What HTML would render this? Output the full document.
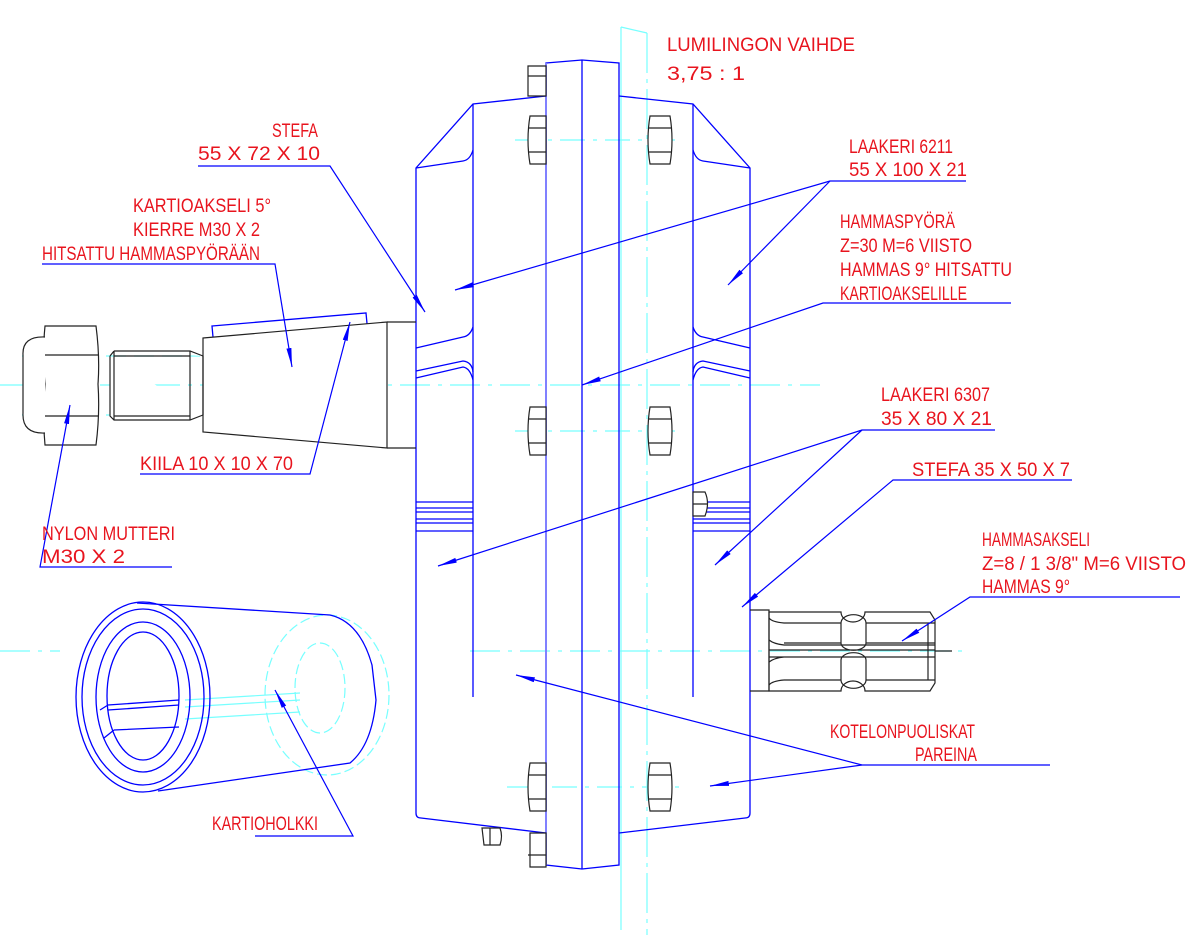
<!DOCTYPE html>
<html><head><meta charset="utf-8"><style>
html,body{margin:0;padding:0;background:#fff;}
svg{display:block;}
text{font-family:"Liberation Sans Narrow","Liberation Sans",sans-serif;fill:#e8141e;font-size:19px;}
</style></head><body>
<svg width="1203" height="947" viewBox="0 0 1203 947" xmlns="http://www.w3.org/2000/svg">
<defs>
<marker id="a" markerWidth="20" markerHeight="8" refX="19" refY="4" orient="auto" markerUnits="userSpaceOnUse">
<path d="M0,1.5 L19,4 L0,6.5 Z" fill="#0000ff"/></marker>
</defs>

<g stroke="#7ff" stroke-width="1.2" fill="none">
<path d="M621,27 L647,33" />
<line x1="621" y1="27" x2="621" y2="930"/>
<line x1="647" y1="33" x2="647" y2="935" stroke-dasharray="40,6,4,6"/>
<line x1="0" y1="385" x2="820" y2="385" stroke-dasharray="30,8,4,8"/>
<line x1="470" y1="651" x2="970" y2="651" stroke-dasharray="30,8,4,8"/>
<line x1="0" y1="651" x2="60" y2="651" stroke-dasharray="30,8,4,8"/>
<line x1="515" y1="140" x2="680" y2="140" stroke-dasharray="25,8,4,8"/>
<line x1="515" y1="431" x2="680" y2="431" stroke-dasharray="25,8,4,8"/>
<line x1="507" y1="787" x2="680" y2="787" stroke-dasharray="25,8,4,8"/>
<line x1="22" y1="356" x2="200" y2="356" stroke-dasharray="20,8"/>
<line x1="22" y1="415" x2="200" y2="415" stroke-dasharray="20,8"/>
<line x1="215" y1="348" x2="360" y2="338" />
<ellipse cx="327" cy="695" rx="62" ry="80" stroke-dasharray="10,4"/>
<ellipse cx="320" cy="688" rx="25" ry="45" stroke-dasharray="10,4"/>
<path d="M185,700 L300,693 M185,707 L300,700 M185,719 L300,712"/>
</g>

<g stroke="#0000ff" stroke-width="1.3" fill="none">
<path d="M546,63 L582,60 L619,63 L619,865 L582,869 L546,865 Z"/>
<line x1="582" y1="60" x2="582" y2="869"/>
<line x1="546" y1="63" x2="546" y2="865" stroke="#8080ff" stroke-width="2"/>
<path d="M546,96 L473,104 L416,168 L416,813 Q416,818 421,818 L546,833"/>
<line x1="473" y1="104" x2="473" y2="697"/>
<path d="M473,150 Q470,160 463,161 L416,168"/>
<path d="M473,327 Q470,336 463,337 L416,348"/>
<path d="M416,378 L463,367 Q470,368 473,380"/>
<path d="M416,371 L463,361 Q472,362 473,372"/>
<path d="M619,96 L693,104 L750,168 L750,813 Q750,818 745,818 L619,833"/>
<line x1="693" y1="104" x2="693" y2="697"/>
<path d="M693,150 Q696,160 703,161 L750,168"/>
<path d="M693,327 Q696,336 703,337 L750,348"/>
<path d="M750,378 L703,367 Q696,368 693,380"/>
<path d="M750,371 L703,361 Q694,362 693,372"/>
<path d="M416,502 H473 M416,508 H473 M416,512 H473 M416,519 H473 M416,523 H473 M416,531 H473"/>
<path d="M693,502 H750 M693,508 H750 M693,512 H750 M693,519 H750 M693,523 H750 M693,531 H750"/>
<path d="M212,326 L366,313 L368,334 L214,348 Z"/>
<ellipse cx="143" cy="697" rx="67" ry="95"/>
<ellipse cx="143" cy="697" rx="61" ry="88"/>
<ellipse cx="143" cy="697" rx="47" ry="75"/>
<ellipse cx="143" cy="696" rx="36" ry="64"/>
<path d="M137,603 L330,615 Q360,622 372,665 L376,700 Q372,745 350,763 L158,791"/>
<path d="M108,705 L179,700 M108,710 L179,705 M114,730 L179,727 M108,705 L100,710 M114,730 L104,738"/>
</g>

<g stroke="#222" stroke-width="1.2" fill="#fff">
<path d="M528,66 H546 V96 H528 Z M528,76 H546"/>
<path d="M530,116 H546 V164 H530 Q526,140 530,116 Z M528,128 H546 M528,152 H546"/>
<path d="M530,407 H546 V455 H530 Q526,431 530,407 Z M528,419 H546 M528,443 H546"/>
<path d="M530,763 H546 V811 H530 Q526,787 530,763 Z M528,775 H546 M528,799 H546"/>
<path d="M530,833 H546 V867 H530 Z M528,855 H546"/>
<path d="M650,116 H670 Q674,140 670,164 H650 Q646,140 650,116 Z M648,128 H672 M648,152 H672"/>
<path d="M650,407 H670 Q674,431 670,455 H650 Q646,431 650,407 Z M648,419 H672 M648,443 H672"/>
<path d="M650,763 H670 Q674,787 670,811 H650 Q646,787 650,763 Z M648,775 H672 M648,799 H672"/>
<path d="M693,492 H705 Q710,503 705,516 H693 Z M693,504 H708"/>
<path d="M482,828 H500 Q503,836 500,845 H484 Z M490,828 V845"/>
<path d="M45,326 H96 Q100,357 98,384 Q100,414 96,445 H45 Q42,414 45,384 Q42,357 45,326 Z"/>
<path d="M45,337 Q22,336 23,355 V413 Q22,434 45,433"/>
<path d="M45,355 H98 M45,416 H98"/>
<path d="M114,351 H190 L203,356 M110,356 V416 L114,420 H190 L203,415 M114,351 L110,356 M114,356 H190 M114,416 H190 M114,351 V420 M190,351 V420"/>
<path d="M203,338 L387,322 V448 L203,432 Z" />
<line x1="203" y1="356" x2="203" y2="415"/>
<path d="M387,322 H416 M387,448 H416" fill="none"/>
</g>
<g stroke="#222" stroke-width="1.2" fill="none">
<path d="M750,610 H769 V691 H750"/>
<path d="M769,612 H841 A12,10 0 0 0 865,612 H930 L935,620 V683 L930,691 H865 A12,10 0 0 0 841,691 H769 Z"/>
<path d="M769,618 Q772,622 784,623 H841 M866,623 H935 M784,643 H841 M866,643 H935 M769,640 Q774,644 784,645 H935 M769,650 H935 M769,657 H935 M769,662 Q774,658 784,657 M784,680 H841 M866,680 H935 M769,685 Q772,681 784,680 M841,623 V643 M866,623 V643 M841,660 V680 M866,660 V680 M841,623 A12,8 0 0 1 866,623 M841,643 A12,7 0 0 0 866,643 M841,660 A12,7 0 0 1 866,660 M841,680 A12,8 0 0 0 866,680 M928,623 V680"/>
<line x1="935" y1="651" x2="952" y2="651"/>
</g>

<g stroke="#0000ff" stroke-width="1.2" fill="none">
<path d="M198,166 H330 L425,312" marker-end="url(#a)"/>
<path d="M42,264 H275 L292,367" marker-end="url(#a)"/>
<path d="M140,474 H310 L350,322" marker-end="url(#a)"/>
<path d="M172,567 H40 L70,405" marker-end="url(#a)"/>
<path d="M255,836 H353 L275,690" marker-end="url(#a)"/>
<path d="M966,181 H830 L455,290" marker-end="url(#a)"/>
<path d="M830,181 L728,285" marker-end="url(#a)"/>
<path d="M1011,303 H823 L582,385" marker-end="url(#a)"/>
<path d="M995,430 H862 L438,566" marker-end="url(#a)"/>
<path d="M862,430 L715,565" marker-end="url(#a)"/>
<path d="M1072,480 H893 L742,607" marker-end="url(#a)"/>
<path d="M1180,597 H970 L902,641" marker-end="url(#a)"/>
<path d="M1050,765 H862 L516,675" marker-end="url(#a)"/>
<path d="M862,765 L710,786" marker-end="url(#a)"/>
</g>

<text x="667" y="51" font-size="23" textLength="188" lengthAdjust="spacingAndGlyphs">LUMILINGON VAIHDE</text>
<text x="667" y="80" font-size="23" textLength="78" lengthAdjust="spacingAndGlyphs">3,75 : 1</text>
<text x="272" y="137" textLength="46" lengthAdjust="spacingAndGlyphs">STEFA</text>
<text x="198" y="160" textLength="122" lengthAdjust="spacingAndGlyphs">55 X 72 X  10</text>
<text x="133" y="212" textLength="138" lengthAdjust="spacingAndGlyphs">KARTIOAKSELI 5°</text>
<text x="133" y="236" textLength="127" lengthAdjust="spacingAndGlyphs">KIERRE M30 X 2</text>
<text x="42" y="260" textLength="218" lengthAdjust="spacingAndGlyphs">HITSATTU HAMMASPYÖRÄÄN</text>
<text x="140" y="470" textLength="153" lengthAdjust="spacingAndGlyphs">KIILA 10 X 10 X 70</text>
<text x="42" y="540" textLength="133" lengthAdjust="spacingAndGlyphs">NYLON MUTTERI</text>
<text x="42" y="563" textLength="83" lengthAdjust="spacingAndGlyphs">M30 X 2</text>
<text x="212" y="830" textLength="106" lengthAdjust="spacingAndGlyphs">KARTIOHOLKKI</text>
<text x="849" y="153" textLength="104" lengthAdjust="spacingAndGlyphs">LAAKERI 6211</text>
<text x="849" y="176" textLength="118" lengthAdjust="spacingAndGlyphs">55 X 100 X 21</text>
<text x="840" y="228" textLength="115" lengthAdjust="spacingAndGlyphs">HAMMASPYÖRÄ</text>
<text x="840" y="252" textLength="132" lengthAdjust="spacingAndGlyphs">Z=30 M=6 VIISTO</text>
<text x="840" y="276" textLength="172" lengthAdjust="spacingAndGlyphs">HAMMAS 9° HITSATTU</text>
<text x="840" y="300" textLength="127" lengthAdjust="spacingAndGlyphs">KARTIOAKSELILLE</text>
<text x="881" y="401" textLength="109" lengthAdjust="spacingAndGlyphs">LAAKERI 6307</text>
<text x="881" y="425" textLength="111" lengthAdjust="spacingAndGlyphs">35 X 80 X 21</text>
<text x="912" y="476" textLength="158" lengthAdjust="spacingAndGlyphs">STEFA 35 X 50 X 7</text>
<text x="982" y="546" textLength="108" lengthAdjust="spacingAndGlyphs">HAMMASAKSELI</text>
<text x="982" y="570" textLength="204" lengthAdjust="spacingAndGlyphs">Z=8 / 1 3/8" M=6 VIISTO</text>
<text x="982" y="593" textLength="88" lengthAdjust="spacingAndGlyphs">HAMMAS 9°</text>
<text x="830" y="738" textLength="145" lengthAdjust="spacingAndGlyphs">KOTELONPUOLISKAT</text>
<text x="915" y="761" textLength="62" lengthAdjust="spacingAndGlyphs">PAREINA</text>
</svg>
</body></html>
